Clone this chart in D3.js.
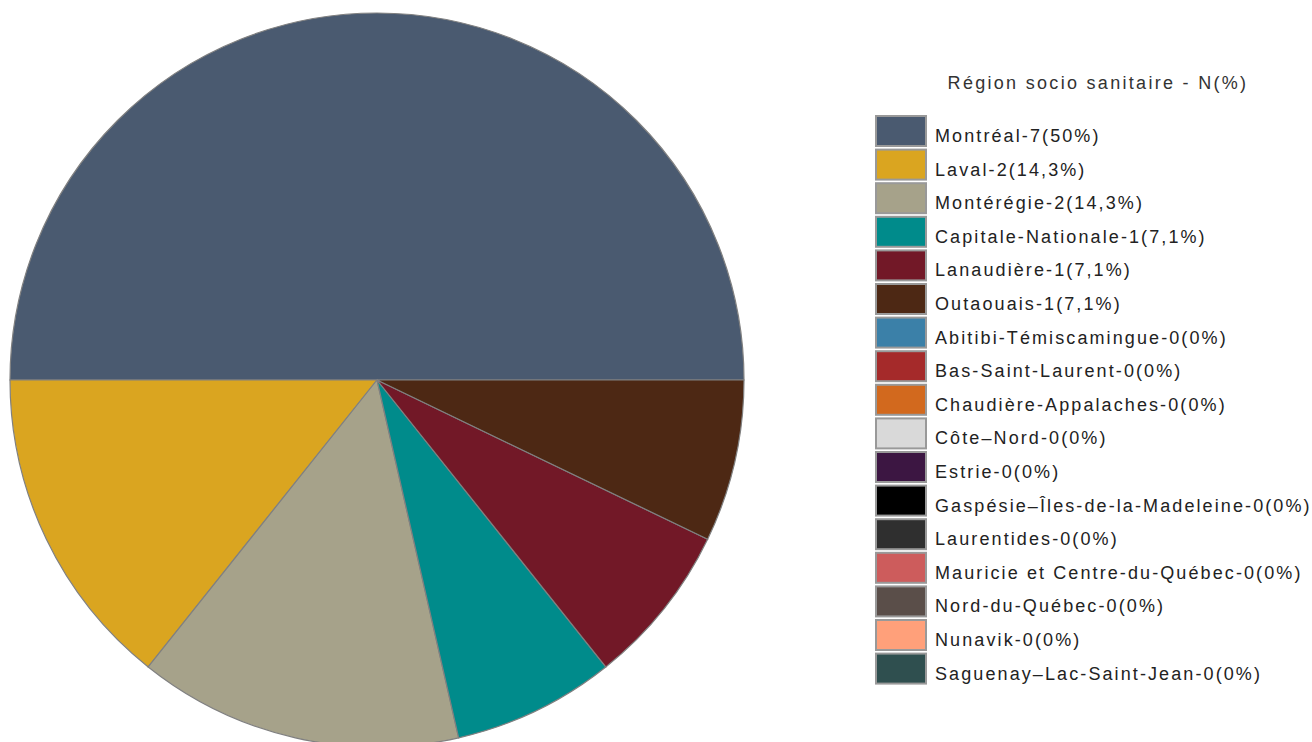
<!DOCTYPE html>
<html><head><meta charset="utf-8">
<script src="https://cdn.jsdelivr.net/npm/d3@7"></script>
<style>body{margin:0;background:#fff}svg{display:block}</style>
</head><body>
<svg id="chart" width="1312" height="742"></svg>
<script>
const categories = ["Montréal","Laval","Montérégie","Capitale-Nationale","Lanaudière","Outaouais","Abitibi-Témiscamingue","Bas-Saint-Laurent","Chaudière-Appalaches","Côte–Nord","Estrie","Gaspésie–Îles-de-la-Madeleine","Laurentides","Mauricie et Centre-du-Québec","Nord-du-Québec","Nunavik","Saguenay–Lac-Saint-Jean"];
const counts = [7,2,2,1,1,1,0,0,0,0,0,0,0,0,0,0,0];
const percentLabels = ["50%","14,3%","14,3%","7,1%","7,1%","7,1%","0%","0%","0%","0%","0%","0%","0%","0%","0%","0%","0%"];
const colors = ["#4a5a70","#daa520","#a6a28a","#008b8b","#721827","#4d2814","#3b80a8","#a52a2a","#d2691e","#d9d9d9","#3c1642","#000000","#2f2f2f","#cd5c5c","#5a4e49","#ffa07a","#2f4f4f"];
const legendTitle = "Région socio sanitaire - N(%)";

const data = categories.map((c,i)=>({name:c,value:counts[i],pct:percentLabels[i],color:colors[i]}));
const svg = d3.select("#chart");
const cx = 377, cy = 380, r = 367;

const pie = d3.pie().value(d=>d.value).sort(null).startAngle(0.5*Math.PI).endAngle(-1.5*Math.PI);
const arc = d3.arc().innerRadius(0).outerRadius(r);
const g = svg.append("g").attr("transform",`translate(${cx},${cy})`);
g.selectAll("path").data(pie(data).filter(d=>d.data.value>0)).join("path")
  .attr("d",arc).attr("fill",d=>d.data.color)
  .attr("stroke","#808080").attr("stroke-width",1.2);

const lg = svg.append("g");
lg.append("text").attr("x",1098).attr("y",89).attr("text-anchor","middle")
  .attr("font-family","Liberation Sans, Arial, sans-serif").attr("font-size",18)
  .attr("letter-spacing",2.3).attr("fill","#333").text(legendTitle);

const y = d3.scaleLinear().domain([0,1]).range([116,116+33.6]);
const items = lg.selectAll("g.item").data(data).join("g").attr("class","item")
  .attr("transform",(d,i)=>`translate(0,${y(i)})`);
items.append("rect").attr("x",876).attr("y",0).attr("width",50).attr("height",30)
  .attr("fill",d=>d.color).attr("stroke","#999").attr("stroke-width",2);
items.append("text").attr("x",935).attr("y",26)
  .attr("font-family","Liberation Sans, Arial, sans-serif").attr("font-size",18)
  .attr("letter-spacing",2.1).attr("fill","#222")
  .text(d=>`${d.name}-${d.value}(${d.pct})`);
</script>
</body></html>
